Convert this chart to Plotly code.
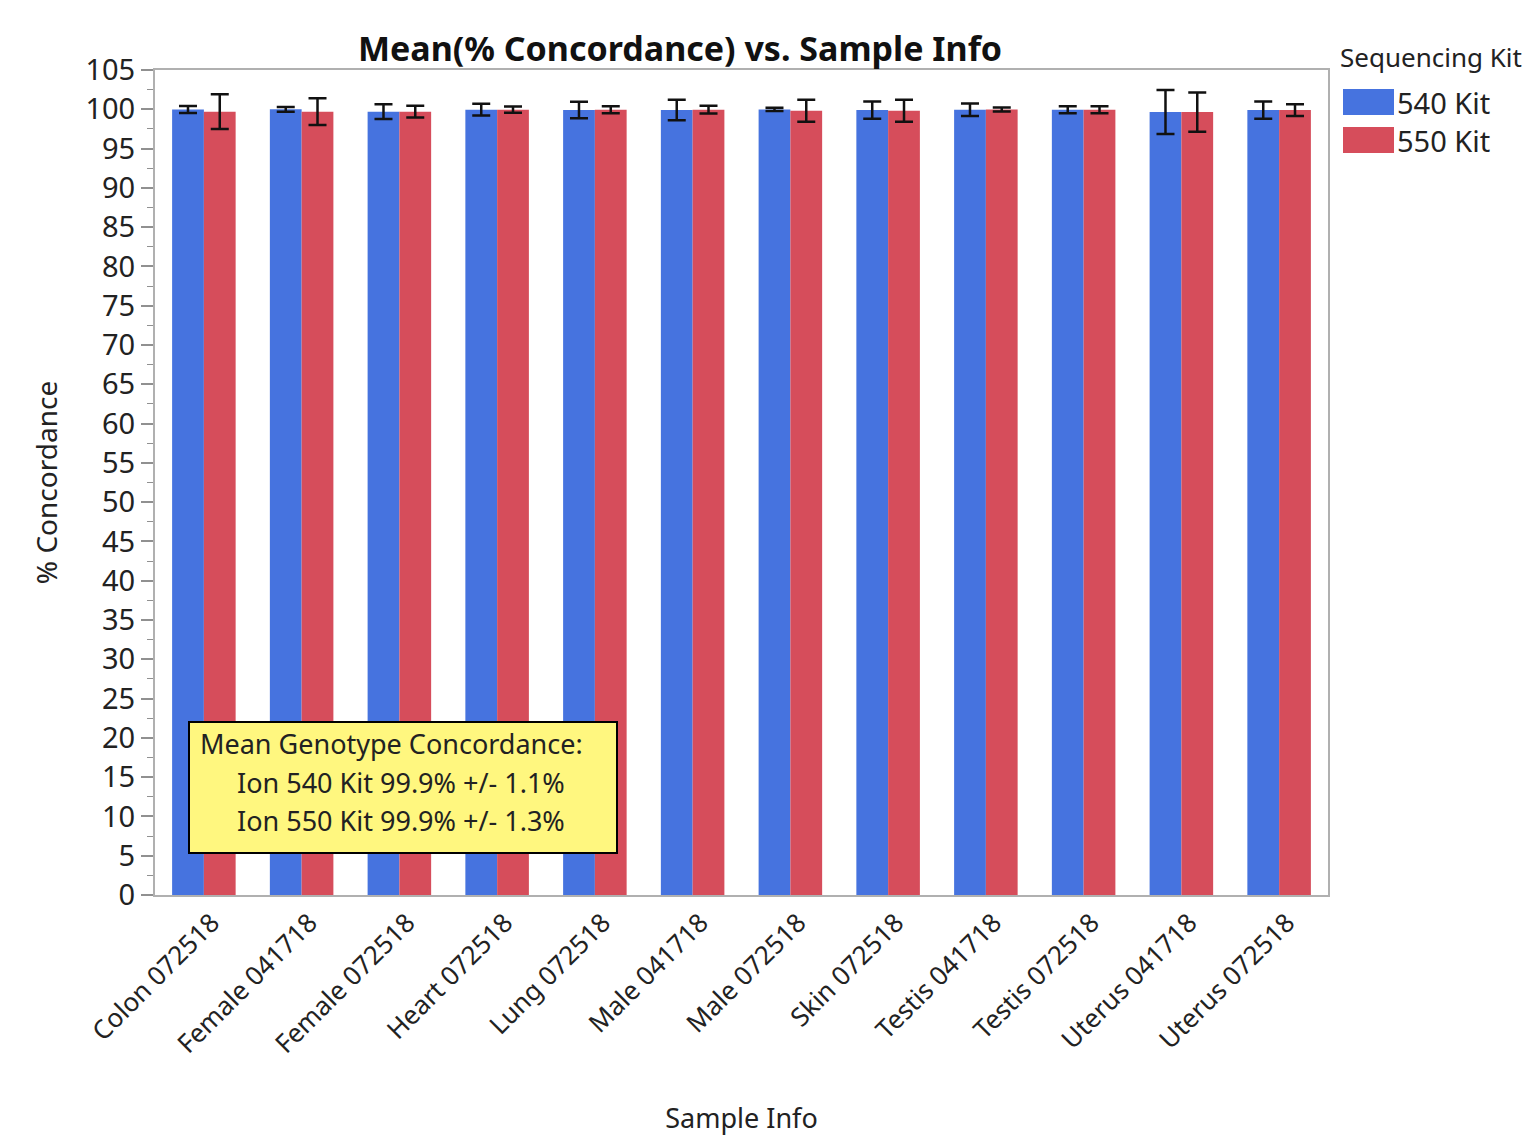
import plotly.graph_objects as go

categories = ["Colon 072518", "Female 041718", "Female 072518", "Heart 072518",
              "Lung 072518", "Male 041718", "Male 072518", "Skin 072518",
              "Testis 041718", "Testis 072518", "Uterus 041718", "Uterus 072518"]
series_names = ["540 Kit", "550 Kit"]
mean_540 = [99.98, 100.0, 99.7, 99.95, 99.9, 99.9, 99.98, 99.9, 99.95, 99.95, 99.65, 99.9]
mean_550 = [99.7, 99.7, 99.7, 99.95, 99.95, 99.95, 99.8, 99.8, 99.98, 99.95, 99.65, 99.9]
err_540 = [0.45, 0.3, 0.95, 0.75, 1.05, 1.3, 0.2, 1.1, 0.8, 0.45, 2.8, 1.1]
err_550 = [2.2, 1.7, 0.75, 0.4, 0.45, 0.5, 1.4, 1.4, 0.25, 0.45, 2.5, 0.75]
colors = ["#4673DF", "#D64D5B"]
y_ticks = list(range(0, 106, 5))
note_lines = ["Mean Genotype Concordance:",
              "Ion 540 Kit 99.9% +/- 1.1%",
              "Ion 550 Kit 99.9% +/- 1.3%"]

FONT = "Noto Sans"
TXT = "#222222"

fig = go.Figure()
for name, vals, errs, col in zip(series_names, [mean_540, mean_550], [err_540, err_550], colors):
    fig.add_trace(go.Bar(
        x=categories, y=vals, name=name, marker=dict(color=col, line=dict(width=0)),
        error_y=dict(type="data", array=errs, visible=True, color="#111111", thickness=2.5, width=9),
        showlegend=False,
    ))

fig.update_layout(
    width=1522, height=1138,
    margin=dict(l=155, r=194, t=70, b=243),
    paper_bgcolor="white", plot_bgcolor="white",
    barmode="group", bargap=0.35, bargroupgap=0,
    font=dict(family=FONT, size=26, color=TXT),
    title=dict(text="<b>Mean(% Concordance) vs. Sample Info</b>", x=(680 / 1522), xanchor="center",
               y=1 - 49 / 1138, yanchor="middle", font=dict(size=34, color="#111111")),
    xaxis=dict(
        automargin=False,
        tickangle=-45, showline=True, linecolor="#b0b0b0", linewidth=2, mirror=True,
        ticks="", showgrid=False, tickfont=dict(size=26, color=TXT), ticklabelshift=8,
        title=dict(text="Sample Info", font=dict(size=27, color=TXT), standoff=50),
    ),
    yaxis=dict(
        automargin=False,
        range=[0, 105], tickvals=y_ticks, showline=True, linecolor="#b0b0b0", linewidth=2, mirror=True,
        ticks="outside", ticklen=12, tickcolor="#909090", tickwidth=2, showgrid=False, zeroline=False,
        minor=dict(dtick=2.5, ticks="outside", ticklen=6, tickcolor="#909090", tickwidth=1, showgrid=False),
        tickfont=dict(size=29, color=TXT),
        title=dict(text="% Concordance", font=dict(size=28, color=TXT), standoff=20),
    ),
)

# annotation box
fig.add_shape(type="rect", xref="paper", yref="paper",
              x0=(189 - 155) / 1173, x1=(617 - 155) / 1173,
              y0=(895 - 853) / 825, y1=(895 - 722) / 825,
              fillcolor="#FFF77F", line=dict(color="black", width=2), layer="above")
line_x = [198, 235, 235]
line_y = [743, 782, 820]
for txt, px, py in zip(note_lines, line_x, line_y):
    fig.add_annotation(text=txt, xref="paper", yref="paper",
                       x=(px - 155) / 1173, y=(895 - py) / 825, xanchor="left", yanchor="middle",
                       showarrow=False, font=dict(size=27, color=TXT))

# custom legend
fig.add_annotation(text="Sequencing Kit", xref="paper", yref="paper",
                   x=(1338 - 155) / 1173, y=(895 - 57) / 825, xanchor="left", yanchor="middle",
                   showarrow=False, font=dict(size=26, color=TXT))
leg_y = [102, 140]
for name, col, py in zip(series_names, colors, leg_y):
    fig.add_shape(type="rect", xref="paper", yref="paper",
                  x0=(1343 - 155) / 1173, x1=(1394 - 155) / 1173,
                  y0=(895 - (py + 13)) / 825, y1=(895 - (py - 13)) / 825,
                  fillcolor=col, line=dict(width=0))
    fig.add_annotation(text=name, xref="paper", yref="paper",
                       x=(1395 - 155) / 1173, y=(895 - py) / 825, xanchor="left", yanchor="middle",
                       showarrow=False, font=dict(size=29, color=TXT))

fig.write_html("out.html")
